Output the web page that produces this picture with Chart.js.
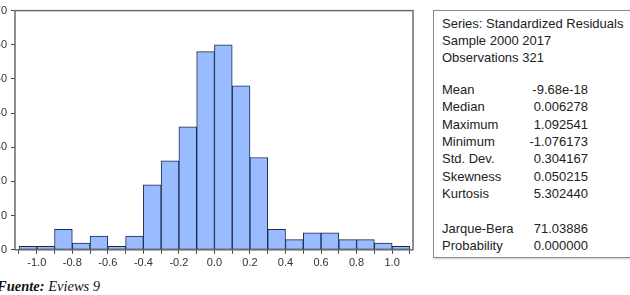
<!DOCTYPE html>
<html>
<head>
<meta charset="utf-8">
<script src="https://cdn.jsdelivr.net/npm/chart.js@4/dist/chart.umd.min.js"></script>
<style>
  body { margin: 0; background: #fff; width: 630px; height: 295px; overflow: hidden; position: relative; }
  #wrap { position: absolute; left: -20px; top: 0; width: 436px; height: 278px; }
  #stats {
    position: absolute; left: 433px; top: 10px; width: 220px; height: 246px;
    border: 1px solid #8a8a8a; box-shadow: 1px 1px 2px #ccc;
    font-family: "Liberation Sans", Arial, sans-serif; font-size: 13px; color: #222;
  }
  #stats .row { position: absolute; left: 8px; width: 146px; line-height: 17px; display: flex; justify-content: space-between; white-space: nowrap; }
  #stats .full { position: absolute; left: 8px; line-height: 17px; white-space: nowrap; }
  #src {
    position: absolute; left: -3px; top: 278px;
    font-family: "Liberation Serif", "Times New Roman", serif; font-size: 14.5px; font-style: italic; color: #111;
  }
</style>
</head>
<body>
<div id="wrap"><canvas id="chart"></canvas></div>
<div id="stats"></div>
<div id="src"><b>Fuente:</b> Eviews 9</div>
<script>
// histogram bins (width 0.1) and counts
const binCenters = [-1.05, -0.95, -0.85, -0.75, -0.65, -0.55, -0.45, -0.35, -0.25, -0.15, -0.05,
                    0.05, 0.15, 0.25, 0.35, 0.45, 0.55, 0.65, 0.75, 0.85, 0.95, 1.05];
const counts = [1, 1, 6, 2, 4, 1, 4, 19, 26, 36, 58, 60, 48, 27, 6, 3, 5, 5, 3, 3, 2, 1];
const xTickLabels = [-1.0, -0.8, -0.6, -0.4, -0.2, 0.0, 0.2, 0.4, 0.6, 0.8, 1.0];
const yTicks = [0, 10, 20, 30, 40, 50, 60, 70];

const headerLines = ["Series: Standardized Residuals", "Sample 2000 2017", "Observations 321"];
const statNames = ["Mean", "Median", "Maximum", "Minimum", "Std. Dev.", "Skewness", "Kurtosis"];
const statValues = ["-9.68e-18", "0.006278", "1.092541", "-1.076173", "0.304167", "0.050215", "5.302440"];
const testNames = ["Jarque-Bera", "Probability"];
const testValues = ["71.03886", "0.000000"];

// stats box
const box = document.getElementById("stats");
let y = 4;
headerLines.forEach(t => {
  const d = document.createElement("div");
  d.className = "full"; d.style.top = y + "px"; d.textContent = t;
  box.appendChild(d); y += 17;
});
y += 15;
function addRows(names, vals) {
  names.forEach((n, i) => {
    const d = document.createElement("div");
    d.className = "row"; d.style.top = y + "px";
    d.innerHTML = "<span>" + n + "</span><span>" + vals[i] + "</span>";
    box.appendChild(d); y += 17.3;
  });
}
addRows(statNames, statValues);
y += 18;
addRows(testNames, testValues);

const binEdges = [];
for (let i = 0; i <= binCenters.length; i++) binEdges.push(Math.round((binCenters[0] - 0.05 + i * 0.1) * 10) / 10);

const framePlugin = {
  id: "frame",
  afterDraw(chart) {
    const a = chart.chartArea, c = chart.ctx;
    c.save();
    c.strokeStyle = "#6a6a6a";
    c.lineWidth = 1.5;
    c.strokeRect(a.left, a.top, a.right - a.left, a.bottom - a.top);
    c.restore();
  }
};

const ctx = document.getElementById("chart").getContext("2d");
new Chart(ctx, {
  type: "bar",
  data: {
    datasets: [{
      data: binCenters.map((x, i) => ({ x: x, y: counts[i] })),
      backgroundColor: "#99bbff",
      borderColor: "#1e2b48",
      borderWidth: 1,
      borderSkipped: false,
      barPercentage: 1,
      categoryPercentage: 1
    }]
  },
  options: {
    responsive: true,
    maintainAspectRatio: false,
    animation: false,
    layout: { padding: { top: 10, right: 3, bottom: 5, left: 0 } },
    plugins: { legend: { display: false }, tooltip: { enabled: false } },
    scales: {
      x: {
        type: "linear",
        offset: false,
        min: -1.1225,
        max: 1.1175,
        afterBuildTicks: s => { s.ticks = binEdges.map(v => ({ value: v })); },
        grid: { display: true, drawOnChartArea: false, drawTicks: true, tickLength: 4, color: "#444", offset: false },
        border: { display: false },
        ticks: {
          autoSkip: false, maxRotation: 0, padding: 3,
          color: "#333",
          font: { family: "'Liberation Sans', Arial, sans-serif", size: 11 },
          callback: v => xTickLabels.some(t => Math.abs(t - v) < 1e-6) ? v.toFixed(1) : ""
        }
      },
      y: {
        min: 0,
        max: 70,
        afterBuildTicks: s => { s.ticks = yTicks.map(v => ({ value: v })); },
        afterFit: s => { s.width = 35; },
        grid: { display: true, drawOnChartArea: false, drawTicks: true, tickLength: 4, color: "#444" },
        border: { display: false },
        ticks: {
          padding: 4,
          color: "#333",
          font: { family: "'Liberation Sans', Arial, sans-serif", size: 11 }
        }
      }
    }
  },
  plugins: [framePlugin]
});
</script>
</body>
</html>
